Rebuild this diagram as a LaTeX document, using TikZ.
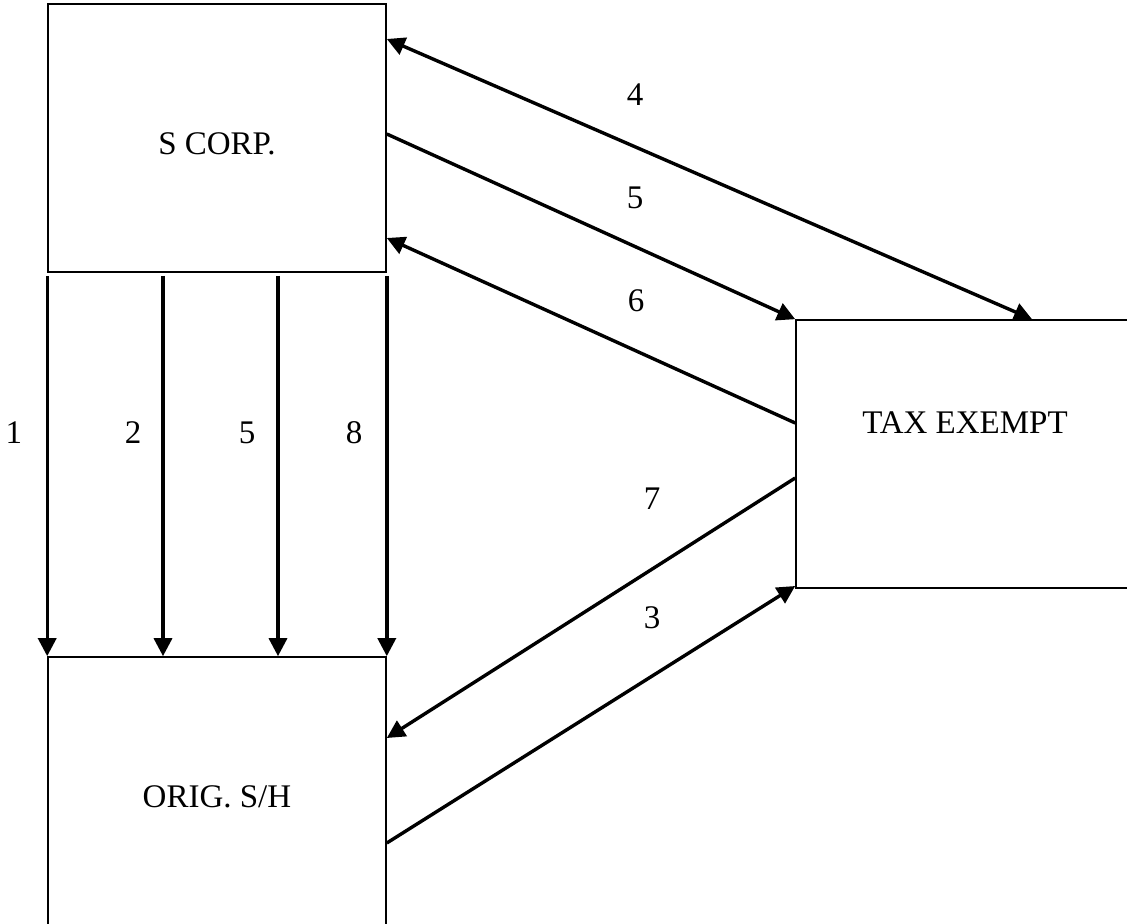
\documentclass[tikz,border=0pt]{standalone}
\usepackage{fontspec}
\setmainfont{Liberation Serif}
\usetikzlibrary{arrows.meta}
\tikzset{
  boxnode/.style={draw, line width=0.8pt, rectangle, inner sep=0pt,
    minimum width=169pt, minimum height=134pt,
    font=\fontsize{16.5}{19}\selectfont},
  tip/.style={Triangle[length=9pt,width=9pt]},
  conn/.style={line width=1.7pt, -{Triangle[length=9pt,width=9pt]}},
  biconn/.style={line width=1.7pt, {Triangle[length=9pt,width=9pt]}-{Triangle[length=9pt,width=9pt]}},
  num/.style={font=\fontsize{16.5}{19}\selectfont, anchor=base, inner sep=0pt}
}
\begin{document}
\begin{tikzpicture}[x=0.5pt,y=-0.5pt]
\useasboundingbox (0,0) rectangle (1127,924);
\clip (0,0) rectangle (1127,924);
\fill[white] (0,0) rectangle (1127,924);
% boxes
\node[boxnode, text height=16.9pt, text depth=0pt] (s) at (217,138) {S CORP.};
\node[boxnode, text height=10.9pt, text depth=31pt] (t) at (965,454) {TAX EXEMPT};
\node[boxnode, text height=16.9pt, text depth=0pt] (o) at (217,791) {ORIG. S/H};
% connectors to/from tax exempt
\draw[biconn] (s.east |- 0,39) -- (t.north -| 1032,0);
\draw[conn] (s.east |- 0,134) -- (t.north west);
\draw[conn] (t.west |- 0,423) -- (s.east |- 0,238);
\draw[conn] (t.west |- 0,478) -- (o.east |- 0,738);
\draw[conn] (o.east |- 0,843) -- (t.west |- 0,586);
% vertical connectors
\draw[conn, shorten <=1.5pt] (s.south west) -- (o.north west);
\draw[conn, shorten <=1.5pt] (s.south -| 163,0) -- (o.north -| 163,0);
\draw[conn, shorten <=1.5pt] (s.south -| 278,0) -- (o.north -| 278,0);
\draw[conn, shorten <=1.5pt] (s.south east) -- (o.north east);
% labels
\node[num] (l4) at (635,106) {4};
\node[num] (l5a) at (635,209) {5};
\node[num] (l6) at (636,312) {6};
\node[num] (l1) at (14,443) {1};
\node[num] (l2) at (133,443) {2};
\node[num] (l5b) at (247,443) {5};
\node[num] (l8) at (354,443) {8};
\node[num] (l7) at (652,509) {7};
\node[num] (l3) at (652,628) {3};
\end{tikzpicture}
\end{document}
